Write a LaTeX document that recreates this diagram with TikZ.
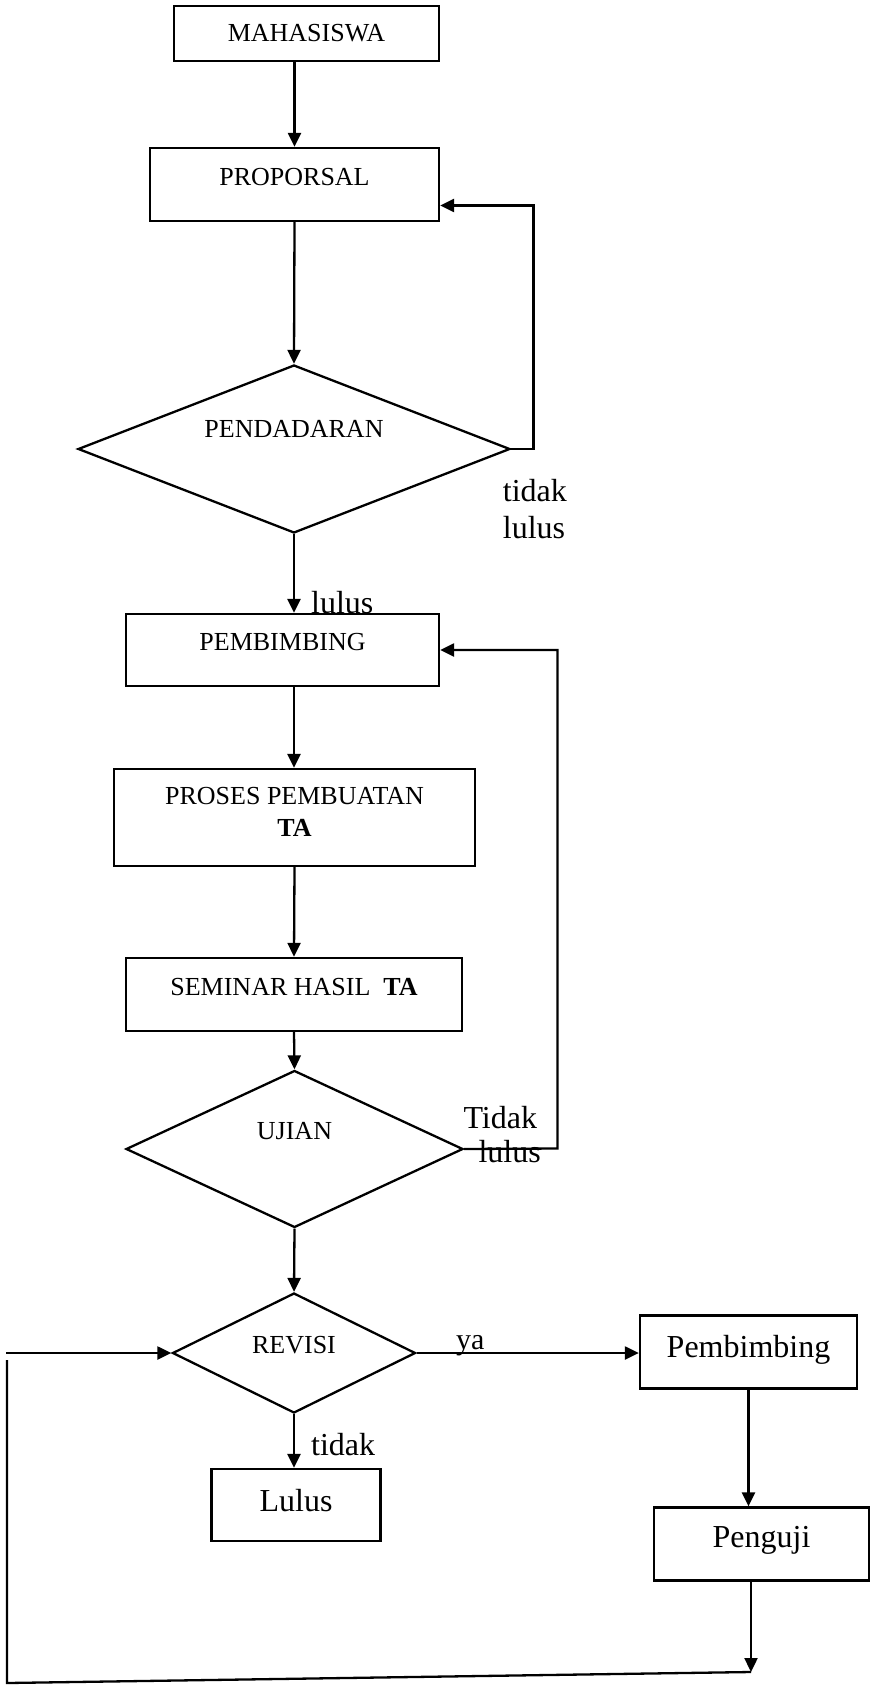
\documentclass[tikz,border=0pt]{standalone}
\usepackage{fontspec}
\setmainfont{Liberation Serif}
\usetikzlibrary{shapes.geometric,arrows.meta}
\tikzset{
  lw/.style={line width=2.3pt},
  box/.style={draw, lw, rectangle, inner sep=0pt},
  dec/.style={draw, lw, diamond, inner sep=0pt, aspect=2},
  arr/.style={lw, -{Triangle[length=14pt,width=13pt]}},
  ln/.style={lw},
  caps/.style={font=\fontsize{26}{32}\selectfont, inner sep=0pt, align=center},
  big/.style={font=\fontsize{32}{36.6}\selectfont, inner sep=0pt},
}
\begin{document}
\begin{tikzpicture}[x=1pt,y=-1pt]
\useasboundingbox (0,0) rectangle (870,1685);

% boxes
\node[box, minimum width=265pt, minimum height=55pt,
      label={[caps]center:MAHASISWA}] (maha) at (306.5,33.5) {};
\node[box, minimum width=289pt, minimum height=73pt,
      label={[caps,yshift=7.5pt]center:PROPORSAL}] (prop) at (294.5,184.5) {};
\node[dec, minimum width=432pt, minimum height=168pt,
      label={[caps,yshift=20pt]center:PENDADARAN}] (pend) at (294,449) {};
\node[box, minimum width=313pt, minimum height=72pt,
      label={[caps,yshift=8pt]center:PEMBIMBING}] (pemb) at (282.5,650) {};
\node[box, minimum width=361pt, minimum height=97pt,
      label={[caps,yshift=5.5pt]center:PROSES PEMBUATAN\\\textbf{TA}}] (proses) at (294.5,817.5) {};
\node[box, minimum width=336pt, minimum height=73pt,
      label={[caps,yshift=7.5pt]center:SEMINAR HASIL\ \ \textbf{TA}}] (seminar) at (294,994.5) {};
\node[dec, minimum width=337pt, minimum height=157pt,
      label={[caps,yshift=18pt]center:UJIAN}] (ujian) at (294.5,1149) {};
\node[dec, minimum width=243pt, minimum height=120pt,
      label={[caps,yshift=8pt]center:REVISI}] (revisi) at (294,1353) {};
\node[box, minimum width=169pt, minimum height=72pt,
      label={[big,yshift=4.5pt]center:Lulus}] (lulusB) at (296,1505) {};
\node[box, minimum width=217pt, minimum height=73pt,
      label={[big,yshift=2pt]center:Pembimbing}] (pembR) at (748.5,1352) {};
\node[box, minimum width=215pt, minimum height=73pt,
      label={[big,yshift=4pt]center:Penguji}] (penguji) at (761.5,1544) {};

% helper coordinates
\coordinate (fbA) at (533.5,449);
\coordinate (fbB) at (557.5,1148.5);
\coordinate (end1) at (751,1672);
\coordinate (bl) at (7,1683);
\coordinate (tl) at (7,1360);
\coordinate (st) at (6,1353);

% main column
\draw[arr] (maha.south -| prop.north) -- (prop.north);
\draw[arr] (prop.south) -- (pend.north);
\draw[arr] (pend.south) -- (pend.south |- pemb.north);
\draw[arr] (pend.south |- pemb.south) -- (pend.south |- proses.north);
\draw[arr] (proses.south) -- (seminar.north);
\draw[arr] (seminar.south) -- (ujian.north);
\draw[arr] (ujian.south) -- (revisi.north);
\draw[arr] (revisi.south) -- (revisi.south |- lulusB.north);

% feedback loops
\draw[arr] (pend.east) -- (fbA) |- ([yshift=-21pt]prop.east);
\draw[arr] (ujian.east) -- (fbB) |- (pemb.east);

% right branch
\draw[arr] (revisi.east) -- (revisi.east -| pembR.west);
\draw[arr] (pembR.south) -- (pembR.south |- penguji.north);
\draw[arr] (end1 |- penguji.south) -- (end1);
\draw[ln] (end1) -- (bl) -- (tl);
\draw[arr] (st) -- (revisi.west);

% labels (base anchor = baseline of the last line)
\node[big, anchor=base west, align=left] (lblA) at (502.7,538.3) {tidak\\lulus};
\node[big, anchor=base west] (lblB) at (311,613) {lulus};
\node[big, font=\fontsize{32}{34.4}\selectfont, anchor=base west, align=left] (lblC) at (463.3,1162.7) {Tidak\\\hspace*{15pt}lulus};
\node[font=\fontsize{30}{34}\selectfont, inner sep=0pt, anchor=base west] (lblD) at (456,1349) {ya};
\node[big, anchor=base west] (lblE) at (311,1455) {tidak};
\end{tikzpicture}
\end{document}
